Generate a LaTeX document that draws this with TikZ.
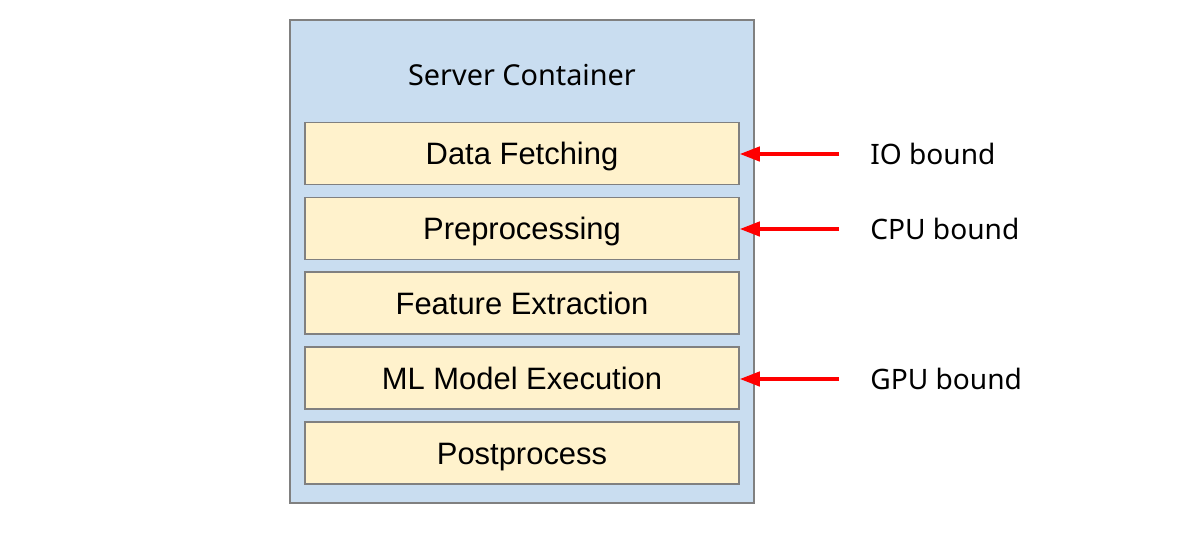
\documentclass[tikz,border=0pt]{standalone}
\usepackage{fontspec}
\setmainfont{Liberation Sans}
\newfontfamily\labelfont{Noto Sans}
\usetikzlibrary{arrows.meta}
\definecolor{containerblue}{RGB}{201,221,240}
\definecolor{stagefill}{RGB}{255,242,204}
\definecolor{edgegray}{RGB}{128,128,128}
\tikzset{
  stage/.style={fill=stagefill, draw=edgegray, line width=1.2pt, minimum width=434*0.025cm, minimum height=62*0.025cm, inner sep=0pt, text height=15.75pt, text depth=0pt, font=\fontsize{22}{26}\selectfont},
  bound/.style={anchor=west, inner sep=0pt, text height=14.3pt, text depth=0pt, font=\labelfont\fontsize{20}{24}\selectfont},
  redarrow/.style={draw=red, line width=2.3pt, -{Triangle[length=0.5cm,width=0.36cm]}, shorten <=31*0.025cm}
}
\begin{document}
\begin{tikzpicture}[x=0.025cm, y=-0.025cm]
		\useasboundingbox (0,0) rectangle (1200,533);
		\node [fill=containerblue, draw=edgegray, line width=1.2pt, minimum width=464*0.025cm, minimum height=483*0.025cm, inner sep=0pt] (server) at (522, 261.5) {};
		\node [font=\labelfont\fontsize{20.5}{24}\selectfont, inner sep=0pt, text height=14.6pt, text depth=0pt] (title) at (522, 75) {Server Container};
		\node [stage] (fetch) at (522, 153.5) {Data Fetching};
		\node [stage] (prep) at (522, 228.5) {Preprocessing};
		\node [stage] (feat) at (522, 303) {Feature Extraction};
		\node [stage] (model) at (522, 378) {ML Model Execution};
		\node [stage] (post) at (522, 453) {Postprocess};
		\node [bound] (io) at (870, 154) {IO bound};
		\node [bound] (cpu) at (870, 229) {CPU bound};
		\node [bound] (gpu) at (870, 379) {GPU bound};
		\draw [redarrow] (io.west) -- (fetch.east |- io.west);
		\draw [redarrow] (cpu.west) -- (prep.east |- cpu.west);
		\draw [redarrow] (gpu.west) -- (model.east |- gpu.west);
	\end{tikzpicture}
\end{document}
